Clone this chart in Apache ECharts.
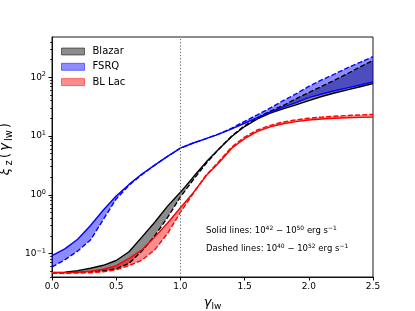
<!DOCTYPE html>
<html>
<head>
<meta charset="utf-8">
<script src="https://cdn.jsdelivr.net/npm/echarts@6/dist/echarts.min.js"></script>
<style>
html,body{margin:0;padding:0;background:#fff;}
#chart{width:415px;height:311px;}
</style>
</head>
<body>
<div id="chart"></div>
<script>
const gamma = [0,0.1,0.2,0.3,0.4,0.5,0.6,0.7,0.8,0.9,1.0,1.1,1.2,1.3,1.4,1.5,1.6,1.7,1.8,1.9,2.0,2.1,2.2,2.3,2.4,2.5];

const fsrqSolid   = [0.092,0.12,0.175,0.30,0.55,0.95,1.5,2.25,3.2,4.5,6.2,7.6,9.0,10.8,13.2,16.5,20.5,25.5,31,37,45,52,59,66,74,83];
const fsrqDashed  = [0.059,0.078,0.11,0.17,0.38,0.85,1.45,2.2,3.2,4.5,6.2,7.6,9.0,10.9,13.6,17.8,23,30,40,52,70,90,113,145,180,224];

const blazarSolid  = [0.0475,0.048,0.051,0.056,0.063,0.076,0.107,0.19,0.34,0.64,1.1,2.0,3.6,6.0,9.8,14.5,19.5,24.5,29,34,40,47,54,61,69,78];
const blazarDashed = [0.047,0.047,0.048,0.049,0.051,0.055,0.068,0.11,0.20,0.41,0.92,1.8,3.4,6.0,10,15,20.5,26.5,33,43,55,70,89,115,150,194];

const bllacSolid  = [0.047,0.0472,0.048,0.050,0.054,0.062,0.083,0.115,0.19,0.33,0.6,1.08,2.1,3.5,6.2,9.0,12,14.3,16.2,17.6,18.7,19.5,20.1,20.5,20.8,21];
const bllacDashed = [0.046,0.046,0.0465,0.047,0.049,0.053,0.062,0.077,0.115,0.22,0.5,1.05,2.15,3.7,6.5,9.6,12.7,15.2,17.3,18.9,20.1,21,21.7,22.3,22.8,23.4];

const yMajor = [0.1,1,10,100];
const yMinor = [0.04,0.05,0.06,0.07,0.08,0.09,0.2,0.3,0.4,0.5,0.6,0.7,0.8,0.9,2,3,4,5,6,7,8,9,20,30,40,50,60,70,80,90,200,300,400];
const vLineX = 1.0;

const groups = [
  {name:'Blazar', solid:blazarSolid, dashed:blazarDashed, line:'#000000', fill:'rgba(0,0,0,0.45)'},
  {name:'FSRQ',   solid:fsrqSolid,   dashed:fsrqDashed,   line:'#0000ff', fill:'rgba(0,0,255,0.45)'},
  {name:'BL Lac', solid:bllacSolid,  dashed:bllacDashed,  line:'#ff0000', fill:'rgba(255,0,0,0.45)'}
];

const FONT = 'DejaVu Sans';
const chart = echarts.init(document.getElementById('chart'), null, {renderer:'canvas'});

const series = [];
groups.forEach(g => {
  series.push({
    type:'custom', name:g.name, coordinateSystem:'cartesian2d', silent:true,
    itemStyle:{color:g.fill},
    data: gamma.map((x,i)=>[x, g.solid[i], g.dashed[i]]),
    renderItem: function(params, api){
      if (params.dataIndex !== 0) return null;
      const pts = [];
      for (let i=0;i<gamma.length;i++) pts.push(api.coord([gamma[i], g.solid[i]]));
      for (let i=gamma.length-1;i>=0;i--) pts.push(api.coord([gamma[i], g.dashed[i]]));
      return {type:'polygon', shape:{points:pts}, style:{fill:g.fill, stroke:null}};
    },
    z:1
  });
});
groups.forEach(g => {
  series.push({
    type:'line', name:g.name+' solid', data: gamma.map((x,i)=>[x,g.solid[i]]),
    showSymbol:false, symbol:'none', silent:true,
    lineStyle:{color:g.line, width:1.4}, z:3
  });
  series.push({
    type:'line', name:g.name+' dashed', data: gamma.map((x,i)=>[x,g.dashed[i]]),
    showSymbol:false, symbol:'none', silent:true,
    lineStyle:{color:g.line, width:1.4, type:[5,2.2]}, z:3
  });
});
series[3].markLine = {
  silent:true, symbol:'none', label:{show:false},
  lineStyle:{color:'#666', width:1, type:[1.2,2]},
  data:[{xAxis:vLineX}]
};

const sup = {fontSize:6.5, lineHeight:6, verticalAlign:'top', fontFamily:FONT, color:'#000'};
const base9 = {fontSize:9, lineHeight:12, fontFamily:FONT, color:'#000'};

chart.setOption({
  animation:false,
  grid:{left:52, right:42, top:37, bottom:34, containLabel:false, outerBoundsMode:'none',
        show:true, borderColor:'#000', borderWidth:0.9, backgroundColor:'transparent'},
  legend:{
    orient:'vertical', left:61, top:45.5, padding:0, itemGap:3.3,
    itemWidth:23, itemHeight:7, selectedMode:false,
    textStyle:{fontSize:10, fontFamily:FONT, color:'#000', lineHeight:12, padding:[0,0,0,3]},
    data:[
      {name:'Blazar', icon:'rect', itemStyle:{color:'rgba(0,0,0,0.45)', borderColor:'rgba(0,0,0,0.5)', borderWidth:1}},
      {name:'FSRQ', icon:'rect', itemStyle:{color:'rgba(0,0,255,0.45)', borderColor:'rgba(0,0,255,0.5)', borderWidth:1}},
      {name:'BL Lac', icon:'rect', itemStyle:{color:'rgba(255,0,0,0.45)', borderColor:'rgba(255,0,0,0.5)', borderWidth:1}}
    ]
  },
  xAxis:{
    type:'value', min:0, max:2.5, interval:0.5,
    name:'{g|γ}{s|lw}', nameLocation:'middle', nameGap:18,
    nameTextStyle:{rich:{g:{fontSize:13, fontStyle:'italic', fontFamily:FONT, lineHeight:16, color:'#000'}, s:{fontSize:9, lineHeight:8, verticalAlign:'bottom', fontFamily:FONT, color:'#000'}}},
    axisLine:{show:true, lineStyle:{color:'#000', width:0.9}},
    axisTick:{show:true, inside:false, length:3.5, lineStyle:{color:'#000', width:1}},
    axisLabel:{margin:5, fontSize:9, fontFamily:FONT, color:'#000', formatter:v=>v.toFixed(1)},
    splitLine:{show:false}
  },
  yAxis:[{
    type:'log', min:0.0398, max:485,
    name:'{i|ξ}{s|z}{n|(}{i|γ}{s|lw}{n|)}', nameLocation:'middle', nameGap:17, nameRotate:90,
    nameTextStyle:{padding:[0,0,0,16], rich:{
      i:{fontSize:13.5, fontStyle:'italic', fontFamily:FONT, lineHeight:18, color:'#000', padding:[0,1,0,1]},
      n:{fontSize:13.5, fontFamily:FONT, lineHeight:18, color:'#000', padding:[0,1,0,1]},
      s:{fontSize:10, lineHeight:9, verticalAlign:'bottom', fontFamily:FONT, color:'#000', padding:[0,1,0,1]}}},
    axisLine:{show:true, lineStyle:{color:'#000', width:0.9}},
    axisTick:{show:true, inside:false, length:3.5, customValues:yMajor, lineStyle:{color:'#000', width:1}},
    axisLabel:{margin:6, customValues:yMajor,
      formatter:function(v){
        const e = Math.round(Math.log10(v));
        return '{b|10}{s|' + String(e).replace('-', '\u2212') + '}';
      },
      rich:{b:base9, s:sup}},
    splitLine:{show:false}
  },{
    type:'log', min:0.0398, max:485, position:'left', offset:0,
    axisLine:{show:false},
    axisTick:{show:true, inside:false, length:2, customValues:yMinor, lineStyle:{color:'#000', width:0.8}},
    axisLabel:{show:false},
    splitLine:{show:false}
  }],
  graphic:[
    {type:'text', left:206, top:225, silent:true, style:{
      text:'{n|Solid lines: 10}{s|42}{n| \u2212 10}{s|50}{n| erg s}{s|\u22121}',
      rich:{n:{fontSize:8.5, lineHeight:12, fontFamily:FONT, fill:'#000'}, s:{fontSize:6, lineHeight:6, verticalAlign:'top', fontFamily:FONT, fill:'#000'}}
    }},
    {type:'text', left:206, top:243, silent:true, style:{
      text:'{n|Dashed lines: 10}{s|40}{n| \u2212 10}{s|52}{n| erg s}{s|\u22121}',
      rich:{n:{fontSize:8.5, lineHeight:12, fontFamily:FONT, fill:'#000'}, s:{fontSize:6, lineHeight:6, verticalAlign:'top', fontFamily:FONT, fill:'#000'}}
    }}
  ],
  series:series
});
</script>
</body>
</html>
